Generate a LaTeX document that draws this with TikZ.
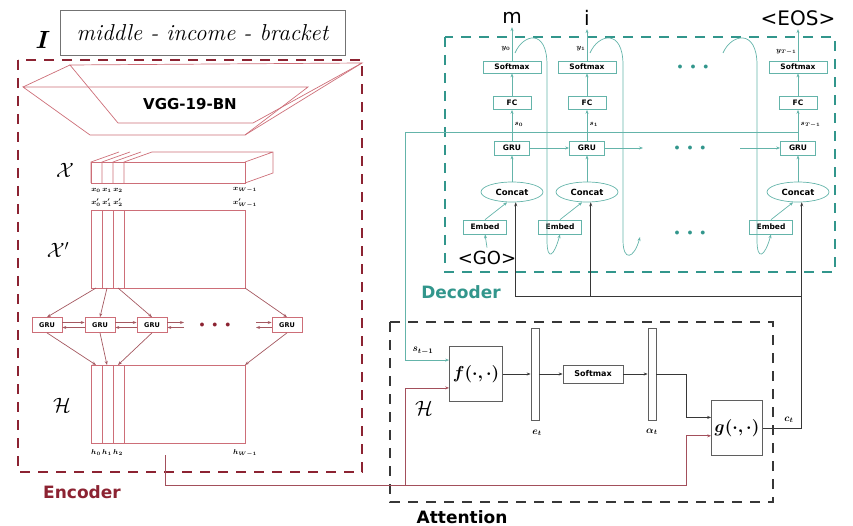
\documentclass[tikz,border=0pt]{standalone}
\usepackage{amsmath,bm}
\usepackage{fontspec}
\setsansfont{DejaVu Sans}
\usetikzlibrary{arrows.meta,positioning,calc,shapes.geometric}
\definecolor{encred}{RGB}{140,35,50}
\definecolor{encpink}{RGB}{205,110,120}
\definecolor{decteal}{RGB}{50,150,140}
\definecolor{tealline}{RGB}{100,180,170}
\definecolor{attgray}{RGB}{55,55,55}

\begin{document}
\begin{tikzpicture}[
    x=1pt, y=-1pt,
    region/.style={dash pattern=on 10pt off 8pt, line width=1.5pt},
    reglabel/.style={font=\fontsize{17}{17}\selectfont\sffamily\bfseries},
    enc/.style={draw=encpink, line width=0.7pt},
    encarr/.style={-{Stealth[length=4pt,width=3pt]}, line width=0.7pt,
                   color=encpink!80!black},
    egru/.style={draw=encpink, line width=0.7pt, minimum width=30pt,
                 minimum height=15pt, inner sep=0pt,
                 font=\fontsize{6.5}{7}\selectfont\sffamily\bfseries},
    dbox/.style={draw=tealline, line width=0.7pt, inner sep=0pt,
                 font=\fontsize{7.5}{8}\selectfont\sffamily\bfseries},
    dell/.style={ellipse, draw=tealline, line width=0.7pt, inner sep=0pt,
                 minimum width=62pt, minimum height=20pt,
                 font=\fontsize{8.5}{9}\selectfont\sffamily\bfseries},
    tealarr/.style={-{Stealth[length=4pt,width=3pt]}, line width=0.7pt,
                    color=tealline},
    darr/.style={-{Stealth[length=4pt,width=3pt]}, line width=0.7pt,
                 color=attgray},
    abox/.style={draw=attgray!80, line width=0.7pt, inner sep=0pt},
    vec/.style={draw=attgray!80, line width=0.7pt, minimum width=8pt,
                minimum height=92pt, inner sep=0pt},
    idx/.style={font=\fontsize{7}{7}\selectfont, inner sep=0.5pt},
    cal/.style={font=\fontsize{22}{22}\selectfont},
    outtxt/.style={font=\fontsize{20}{20}\selectfont\sffamily},
    dots/.style={font=\fontsize{10}{10}\selectfont, text=#1},
  ]
  \useasboundingbox (0,0) rectangle (853,526);

  % --- ENCODER ---
  \draw[region, encred] (18,60) rectangle (362,472);
  \node[reglabel, text=encred] (enclbl) at (82,492) {Encoder};

  % input word image
  \node[draw=black!55, line width=0.8pt, minimum width=285pt,
        minimum height=45pt, inner sep=0pt,
        font=\fontsize{23}{23}\selectfont\itshape] (img) at (202.5,32.5)
    {middle - income - bracket};
  \node[font=\fontsize{25}{25}\selectfont] (ilbl) at (43,40) {$\bm{I}$};

  % VGG block
  \draw[enc] (70,65) -- (362,63) -- (253,123) -- (118,123) -- cycle;
  \draw[enc] (23,87) -- (308,87) -- (245,135) -- (90,135) -- cycle;
  \draw[enc] (23,87) -- (70,65) (362,63) -- (245,135);
  \node[font=\fontsize{15}{15}\selectfont\sffamily\bfseries] (vgg)
    at (190,104) {VGG-19-BN};

  % feature map X
  \foreach \c in {91,102,113,124}
    \draw[enc] (\c,183) -- (\c,162) -- ({\c+28},152);
  \draw[enc] (91,162) rectangle (245,183);
  \draw[enc] (152,152) -- (273,152) -- (273,173) -- (245,183)
             (245,162) -- (273,152);
  \node[cal] (xlbl) at (65,170) {$\mathcal{X}$};
  \foreach \i/\c in {0/96,1/107,2/118}
    \node[idx] (xl\i) at (\c,190) {$\bm{x_{\i}}$};
  \node[idx] (xlW) at (245,190) {$\bm{x_{W-1}}$};

  % feature map X'
  \draw[enc] (91,210) rectangle (245,288);
  \foreach \c in {102,113,124}
    \draw[enc] (\c,210) -- (\c,288);
  \node[cal] (xplbl) at (58,250) {$\mathcal{X}'$};
  \foreach \i/\c in {0/96,1/107,2/118}
    \node[idx] (xpl\i) at (\c,203) {$\bm{x'_{\i}}$};
  \node[idx] (xplW) at (245,203) {$\bm{x'_{W-1}}$};

  % BLSTM/GRU row
  \node[egru] (eg1) at (47,325) {GRU};
  \node[egru] (eg2) at (100,325) {GRU};
  \node[egru] (eg3) at (152,325) {GRU};
  \node[egru] (eg4) at (287,325) {GRU};
  \node[dots=encred] (edots) at (215,325) {$\bullet\;\;\bullet\;\;\bullet$};
  \foreach \a/\b in {eg1/eg2, eg2/eg3} {
    \draw[encarr] ([yshift=2.5pt]\a.east) -- ([yshift=2.5pt]\b.west);
    \draw[encarr] ([yshift=-2.5pt]\b.west) -- ([yshift=-2.5pt]\a.east);
  }
  \coordinate (ef1) at (184,322.5);
  \coordinate (ef2) at (184,327.5);
  \coordinate (eb1) at (256,322.5);
  \coordinate (eb2) at (256,327.5);
  \draw[encarr] ([yshift=2.5pt]eg3.east) -- (ef1);
  \draw[encarr] (ef2) -- ([yshift=-2.5pt]eg3.east);
  \draw[encarr] (eb1) -- ([yshift=2.5pt]eg4.west);
  \draw[encarr] ([yshift=-2.5pt]eg4.west) -- (eb2);

  % X' columns into GRU, GRU into H
  \foreach \c/\g in {96/eg1, 107/eg2, 118/eg3, 245/eg4} {
    \coordinate (xp-\g) at (\c,288);
    \coordinate (ht-\g) at (\c,365);
    \draw[encarr] (xp-\g) -- (\g.north);
    \draw[encarr] (\g.south) -- (ht-\g);
  }

  % feature map H
  \draw[enc] (91,365) rectangle (245,443);
  \foreach \c in {102,113,124}
    \draw[enc] (\c,365) -- (\c,443);
  \node[cal] (hlbl) at (62,405) {$\mathcal{H}$};
  \foreach \i/\c in {0/96,1/107,2/118}
    \node[idx] (hl\i) at (\c,453) {$\bm{h_{\i}}$};
  \node[idx] (hlW) at (245,453) {$\bm{h_{W-1}}$};

  % --- DECODER ---
  \draw[region, decteal] (445,37) rectangle (835,272);
  \node[reglabel, text=decteal] (declbl) at (461,292) {Decoder};

  \foreach \i/\cx in {1/512, 2/587, 3/798} {
    \node[dbox, minimum width=58pt, minimum height=12pt] (sm\i)
      at (\cx,67) {Softmax};
    \node[dbox, minimum width=38pt, minimum height=13pt] (fc\i)
      at (\cx,103) {FC};
    \node[dbox, minimum width=35pt, minimum height=14pt] (dg\i)
      at (\cx,148) {GRU};
    \node[dell] (cc\i) at (\cx,192) {Concat};
    \node[dbox, minimum width=43pt, minimum height=14pt] (em\i)
      at ({\cx-27},227) {Embed};
    \draw[tealarr] (em\i.north) -- (cc\i.-115);
    \draw[tealarr] (cc\i.north) -- (dg\i.south);
    \draw[tealarr] (dg\i.north) -- (fc\i.south);
    \draw[tealarr] (fc\i.north) -- (sm\i.south);
  }

  % outputs
  \node[outtxt] (o1) at (512,18) {m};
  \node[outtxt] (o2) at (587,18) {i};
  \node[outtxt] (o3) at (798,18) {<EOS>};
  \foreach \i in {1,2,3}
    \draw[tealarr] (sm\i.north) -- (o\i.south);
  \node[idx, anchor=east] (yl1) at (511,49) {$\bm{y_0}$};
  \node[idx, anchor=east] (yl2) at (586,49) {$\bm{y_1}$};
  \node[idx, anchor=east] (yl3) at (797,52) {$\bm{y_{T-1}}$};
  \node[idx, anchor=west] (sl1) at (514,124) {$\bm{s_0}$};
  \node[idx, anchor=west] (sl2) at (589,124) {$\bm{s_1}$};
  \node[idx, anchor=west] (sl3) at (800,125) {$\bm{s_{T-1}}$};

  \node[font=\fontsize{18}{18}\selectfont\sffamily] (go) at (487,258) {<GO>};
  \draw[tealarr] (go.north) -- (em1.south);

  % recurrence between GRUs
  \coordinate (dgo) at (643,148);
  \coordinate (dgi) at (740,148);
  \draw[tealarr] (dg1.east) -- (dg2.west);
  \draw[tealarr] (dg2.east) -- (dgo);
  \draw[tealarr] (dgi) -- (dg3.west);
  \node[dots=decteal] (dd1) at (693,67) {$\bullet\;\;\bullet\;\;\bullet$};
  \node[dots=decteal] (dd2) at (690,148) {$\bullet\;\;\bullet\;\;\bullet$};
  \node[dots=decteal] (dd3) at (690,233) {$\bullet\;\;\bullet\;\;\bullet$};

  % feed previous output back into the next embedding
  \coordinate (gap) at (640,237);
  \foreach \sx/\dx/\tgt in {515/547/em2.south, 590/623/gap,
                            723/757/em3.south}
    \draw[tealarr] (\sx,53) .. controls ({\sx+8},34) and (\dx,28) .. (\dx,65)
      -- (\dx,240) .. controls (\dx,262) and ($(\tgt)+(-6,22)$) .. (\tgt);

  % --- ATTENTION ---
  \draw[region, attgray] (390,322) rectangle (773,502);
  \node[reglabel, text=black] (attlbl) at (462,517) {Attention};

  \node[abox, minimum width=53pt, minimum height=55pt,
        font=\fontsize{16}{16}\selectfont] (f) at (476,374)
    {$\bm{f(\cdot,\cdot)}$};
  \node[vec] (ev) at (535,374) {};
  \node[abox, minimum width=60pt, minimum height=18pt,
        font=\fontsize{8}{8}\selectfont\sffamily\bfseries] (asm) at (593,374)
    {Softmax};
  \node[vec] (av) at (652,374) {};
  \node[abox, minimum width=51pt, minimum height=55pt,
        font=\fontsize{16}{16}\selectfont] (g) at (737,428)
    {$\bm{g(\cdot,\cdot)}$};

  \node[idx, font=\fontsize{10}{10}\selectfont] (etl) at (537,433) {$\bm{e_t}$};
  \node[idx, font=\fontsize{10}{10}\selectfont] (atl) at (652,432) {$\bm{\alpha_t}$};
  \node[idx, font=\fontsize{10}{10}\selectfont] (ctl) at (789,420) {$\bm{c_t}$};
  \node[idx, font=\fontsize{10}{10}\selectfont] (stl) at (423,351) {$\bm{s_{t-1}}$};
  \node[cal] (hal) at (424,408) {$\mathcal{H}$};

  \draw[darr] (f.east) -- (ev.west);
  \draw[darr] (ev.east) -- (asm.west);
  \draw[darr] (asm.east) -- (av.west);
  \draw[darr] (av.east) -- (686,374) |- ($(g.north west)!0.31!(g.south west)$);

  % encoder output H into attention
  \coordinate (hout) at (165,455);
  \coordinate (hsplit) at (405,485);
  \draw[encarr, encred!80] (hout) -- (165,485) -- (686,485)
    |- ($(g.north west)!0.64!(g.south west)$);
  \draw[encarr, encred!80] (hsplit) |- ($(f.north west)!0.75!(f.south west)$);

  % decoder state into attention
  \coordinate (sline) at (405,132);
  \draw[tealline, line width=0.7pt] (sline) -- (798,132);
  \draw[tealarr] (sline) |- ($(f.north west)!0.25!(f.south west)$);

  % context vector back to the decoder
  \coordinate (ctx) at ($(cc3.-70)+(0,94)$);
  \draw[darr] (g.east) -| (cc3.-70);
  \draw[darr] (ctx) -| (cc2.-70);
  \draw[darr] (ctx) -| (cc1.-70);

\end{tikzpicture}
\end{document}
